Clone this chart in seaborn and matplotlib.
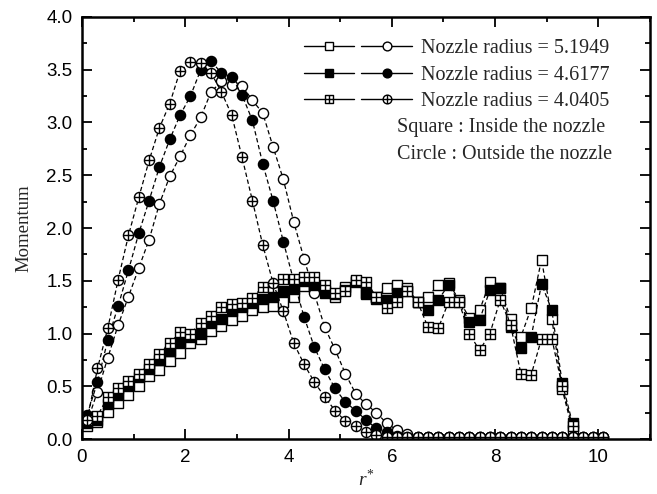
import matplotlib
matplotlib.use("Agg")
import matplotlib.pyplot as plt
import seaborn as sns
import pandas as pd
from matplotlib.path import Path
from matplotlib.lines import Line2D
from matplotlib.legend_handler import HandlerTuple
from matplotlib.ticker import MultipleLocator, FormatStrFormatter

# ---------------- data ----------------
r_out = [0.1, 0.3, 0.5, 0.7, 0.9, 1.1, 1.3, 1.5, 1.7, 1.9, 2.1, 2.3, 2.5, 2.7, 2.9,
         3.1, 3.3, 3.5, 3.7, 3.9, 4.1, 4.3, 4.5, 4.7, 4.9, 5.1, 5.3, 5.5, 5.7, 5.9,
         6.1, 6.3, 6.5, 6.7, 6.9, 7.1, 7.3, 7.5, 7.7, 7.9, 8.1, 8.3, 8.5, 8.7, 8.9,
         9.1, 9.3, 9.5, 9.7, 9.9, 10.1]
r_in = [0.1, 0.3, 0.5, 0.7, 0.9, 1.1, 1.3, 1.5, 1.7, 1.9, 2.1, 2.3, 2.5, 2.7, 2.9,
        3.1, 3.3, 3.5, 3.7, 3.9, 4.1, 4.3, 4.5, 4.7, 4.9, 5.1, 5.3, 5.5, 5.7, 5.9,
        6.1, 6.3, 6.5, 6.7, 6.9, 7.1, 7.3, 7.5, 7.7, 7.9, 8.1, 8.3, 8.5, 8.7, 8.9,
        9.1, 9.3, 9.5]

# outside the nozzle (circles)
out_5_1949 = [0.16, 0.45, 0.77, 1.08, 1.35, 1.62, 1.89, 2.23, 2.49, 2.68, 2.88, 3.05,
              3.29, 3.39, 3.36, 3.35, 3.21, 3.09, 2.77, 2.46, 2.06, 1.71, 1.38, 1.06,
              0.85, 0.62, 0.43, 0.33, 0.25, 0.15, 0.085, 0.05, 0.015, 0.015, 0.015,
              0.015, 0.015, 0.015, 0.015, 0.015, 0.015, 0.015, 0.015, 0.015, 0.015,
              0.015, 0.015, 0.015, 0.015, 0.015, 0.015]
out_4_6177 = [0.23, 0.54, 0.94, 1.26, 1.60, 1.95, 2.26, 2.58, 2.84, 3.07, 3.25, 3.50,
              3.58, 3.47, 3.43, 3.26, 3.02, 2.61, 2.26, 1.87, 1.50, 1.16, 0.87, 0.66,
              0.48, 0.35, 0.27, 0.18, 0.10, 0.07, 0.03, 0.015, 0.015, 0.015, 0.015,
              0.015, 0.015, 0.015, 0.015, 0.015, 0.015, 0.015, 0.015, 0.015, 0.015,
              0.015, 0.015, 0.015, 0.015, 0.015, 0.015]
out_4_0405 = [0.18, 0.67, 1.05, 1.51, 1.93, 2.29, 2.64, 2.95, 3.18, 3.49, 3.57, 3.56,
              3.47, 3.29, 3.07, 2.67, 2.26, 1.84, 1.48, 1.21, 0.91, 0.71, 0.54, 0.40,
              0.27, 0.17, 0.12, 0.07, 0.04, 0.015, 0.015, 0.015, 0.015, 0.015, 0.015,
              0.015, 0.015, 0.015, 0.015, 0.015, 0.015, 0.015, 0.015, 0.015, 0.015,
              0.015, 0.015, 0.015, 0.015, 0.015, 0.015]

# inside the nozzle (squares)
in_5_1949 = [0.12, 0.16, 0.26, 0.34, 0.42, 0.50, 0.60, 0.65, 0.74, 0.82, 0.91, 0.95,
             1.02, 1.07, 1.13, 1.17, 1.22, 1.25, 1.26, 1.30, 1.35, 1.45, 1.44, 1.40,
             1.35, 1.44, 1.50, 1.37, 1.35, 1.43, 1.46, 1.43, 1.30, 1.35, 1.46, 1.48,
             1.32, 1.15, 1.22, 1.49, 1.43, 1.14, 0.97, 1.24, 1.70, 1.14, 0.47, 0.09]
in_4_6177 = [0.15, 0.18, 0.33, 0.42, 0.50, 0.59, 0.66, 0.75, 0.83, 0.92, 0.97, 1.00,
             1.10, 1.14, 1.21, 1.25, 1.29, 1.33, 1.35, 1.40, 1.42, 1.50, 1.46, 1.38,
             1.37, 1.41, 1.49, 1.38, 1.33, 1.32, 1.38, 1.40, 1.30, 1.22, 1.32, 1.46,
             1.30, 1.11, 1.13, 1.41, 1.43, 1.06, 0.86, 0.97, 1.47, 1.22, 0.53, 0.15]
in_4_0405 = [0.18, 0.22, 0.40, 0.48, 0.55, 0.62, 0.71, 0.81, 0.91, 1.01, 1.00, 1.10,
             1.17, 1.25, 1.28, 1.29, 1.34, 1.44, 1.44, 1.52, 1.52, 1.54, 1.54, 1.46,
             1.38, 1.40, 1.51, 1.49, 1.35, 1.24, 1.30, 1.40, 1.30, 1.06, 1.05, 1.30,
             1.30, 1.00, 0.84, 1.00, 1.32, 1.08, 0.62, 0.61, 0.95, 0.95, 0.50, 0.12]

radii = ["5.1949", "4.6177", "4.0405"]
x_ticks = [0, 2, 4, 6, 8, 10]
y_ticks = [0.0, 0.5, 1.0, 1.5, 2.0, 2.5, 3.0, 3.5, 4.0]

# ---------------- markers ----------------
M, L, C = Path.MOVETO, Path.LINETO, Path.CLOSEPOLY
circ = Path.unit_circle()
cross = Path([(-1, 0), (1, 0), (0, -1), (0, 1)], [M, L, M, L])
circle_plus = Path.make_compound_path(circ, cross)
sq = Path([(-1, -1), (1, -1), (1, 1), (-1, 1), (-1, -1)], [M, L, L, L, C])
square_plus = Path.make_compound_path(sq, cross)

styles = {
    "5.1949": dict(sq="s", ci="o", fc="white"),
    "4.6177": dict(sq="s", ci="o", fc="black"),
    "4.0405": dict(sq=square_plus, ci=circle_plus, fc="white"),
}
in_vals = {"5.1949": in_5_1949, "4.6177": in_4_6177, "4.0405": in_4_0405}
out_vals = {"5.1949": out_5_1949, "4.6177": out_4_6177, "4.0405": out_4_0405}

# ---------------- figure ----------------
sns.set_theme(style="ticks")
plt.rcParams["font.family"] = ["Liberation Sans", "DejaVu Sans"]
plt.rcParams["mathtext.fontset"] = "custom"
plt.rcParams["mathtext.rm"] = "Liberation Serif"
plt.rcParams["mathtext.it"] = "Liberation Serif:italic"
fig = plt.figure(figsize=(6.57, 4.94), dpi=100)
ax = fig.add_axes([0.1248, 0.1113, 0.8645, 0.8543])

ms = 7.3
ls = (0, (3.5, 2.2))
for rad in radii:
    st = styles[rad]
    df_in = pd.DataFrame({"r": r_in, "m": in_vals[rad]})
    df_out = pd.DataFrame({"r": r_out, "m": out_vals[rad]})
    sns.lineplot(data=df_in, x="r", y="m", ax=ax, color="black", linewidth=0.9,
                 linestyle=ls, marker=st["sq"], markersize=ms, markerfacecolor=st["fc"],
                 markeredgecolor="black", markeredgewidth=1.0, legend=False)
    sns.lineplot(data=df_out, x="r", y="m", ax=ax, color="black", linewidth=0.9,
                 linestyle=ls, marker=st["ci"], markersize=ms, markerfacecolor=st["fc"],
                 markeredgecolor="black", markeredgewidth=1.0, legend=False)

ax.set_xlim(0, 11)
ax.set_ylim(0, 4)
ax.set_xticks(x_ticks)
ax.set_yticks(y_ticks)
ax.xaxis.set_minor_locator(MultipleLocator(1))
ax.yaxis.set_minor_locator(MultipleLocator(0.25))
ax.yaxis.set_major_formatter(FormatStrFormatter("%.1f"))
ax.tick_params(which="both", direction="in", top=True, right=True, width=1.3,
               colors="black", labelsize=13.5, pad=7)
ax.tick_params(which="major", length=7)
ax.tick_params(which="minor", length=3.5)
for s in ax.spines.values():
    s.set_linewidth(1.8)
    s.set_color("black")

ax.set_xlabel(r"$r^{*}$", fontsize=14, labelpad=2)
ax.set_ylabel("Momentum", fontsize=13.5, family="Liberation Serif", labelpad=10)

# legend
handles = []
for rad in radii:
    st = styles[rad]
    h1 = Line2D([], [], color="black", lw=1.0, marker=st["sq"], markersize=ms - 1,
                markerfacecolor=st["fc"], markeredgecolor="black")
    h2 = Line2D([], [], color="black", lw=1.0, marker=st["ci"], markersize=ms - 1,
                markerfacecolor=st["fc"], markeredgecolor="black")
    handles.append((h1, h2))
labels = [f"Nozzle radius = {r}" for r in radii]
leg = ax.legend(handles, labels, handler_map={tuple: HandlerTuple(ndivide=None, pad=0.35)},
                loc="upper left", bbox_to_anchor=(0.39, 0.947), frameon=False,
                handlelength=5.4, handletextpad=0.45, labelspacing=0.35, borderpad=0,
                borderaxespad=0, prop={"family": "Liberation Serif", "size": 14.5})
ax.text(0.555, 0.739, "Square : Inside the nozzle", transform=ax.transAxes,
        family="Liberation Serif", fontsize=14.5, va="center", ha="left")
ax.text(0.555, 0.673, "Circle : Outside the nozzle", transform=ax.transAxes,
        family="Liberation Serif", fontsize=14.5, va="center", ha="left")

fig.savefig("out.png", dpi=100)
